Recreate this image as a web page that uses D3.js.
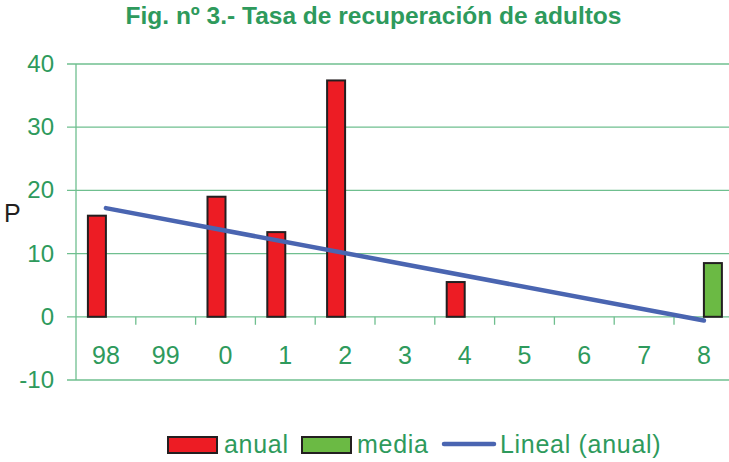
<!DOCTYPE html>
<html>
<head>
<meta charset="utf-8">
<script src="https://cdn.jsdelivr.net/npm/d3@7"></script>
<style>
  body { margin: 0; background: #fff; }
  svg { display: block; font-family: "Liberation Sans", Arial, sans-serif; }
</style>
</head>
<body>
<svg id="chart"></svg>
<script>
var years = ["98", "99", "0", "1", "2", "3", "4", "5", "6", "7", "8"];
var anual = [16, 0, 19, 13.4, 37.4, 0, 5.5, 0, 0, 0, 0];
var media = [0, 0, 0, 0, 0, 0, 0, 0, 0, 0, 8.5];
var yTicks = [-10, 0, 10, 20, 30, 40];

var width = 729, height = 462;
var green = "#2e9a5c";
var gridColor = "#6fbf8f";

var svg = d3.select("#chart").attr("width", width).attr("height", height);

var x0 = 76, bandW = 59.8;
var x = d3.scaleBand().domain(years).range([x0, x0 + bandW * years.length]).paddingInner(0).paddingOuter(0);
var y = d3.scaleLinear().domain([-10, 40]).range([380, 64]);
var barW = 18;

// title
svg.append("text")
  .attr("x", 373.5).attr("y", 23.5)
  .attr("text-anchor", "middle")
  .attr("font-size", 24.5).attr("font-weight", "bold")
  .attr("fill", green)
  .text("Fig. nº 3.- Tasa de recuperación de adultos");

// gridlines
svg.append("g").selectAll("line")
  .data(yTicks)
  .join("line")
  .attr("x1", 67).attr("x2", width)
  .attr("y1", d => y(d)).attr("y2", d => y(d))
  .attr("stroke", gridColor).attr("stroke-width", 1.3);

// y labels
svg.append("g").selectAll("text")
  .data(yTicks)
  .join("text")
  .attr("x", 54).attr("y", d => y(d) + 8)
  .attr("text-anchor", "end")
  .attr("font-size", 24)
  .attr("fill", green)
  .text(d => d);

// vertical axis
svg.append("line")
  .attr("x1", x0).attr("x2", x0)
  .attr("y1", y(40)).attr("y2", y(-10))
  .attr("stroke", gridColor).attr("stroke-width", 1.3);

// category ticks below zero line
svg.append("g").selectAll("line")
  .data(years.slice(1))
  .join("line")
  .attr("x1", d => x(d)).attr("x2", d => x(d))
  .attr("y1", y(0)).attr("y2", y(0) + 8)
  .attr("stroke", gridColor).attr("stroke-width", 1.3);

// category labels
svg.append("g").selectAll("text")
  .data(years)
  .join("text")
  .attr("x", d => x(d) + x.bandwidth() / 2)
  .attr("y", 364)
  .attr("text-anchor", "middle")
  .attr("font-size", 25)
  .attr("fill", green)
  .text(d => d);

// bars
svg.append("g").selectAll("rect")
  .data(years.map((d, i) => ({ k: d, v: anual[i] })).filter(d => d.v > 0))
  .join("rect")
  .attr("x", d => x(d.k) + x.bandwidth() / 2 - barW)
  .attr("y", d => y(d.v))
  .attr("width", barW)
  .attr("height", d => y(0) - y(d.v))
  .attr("fill", "#ed1c24")
  .attr("stroke", "#231f20").attr("stroke-width", 2);

svg.append("g").selectAll("rect")
  .data(years.map((d, i) => ({ k: d, v: media[i] })).filter(d => d.v > 0))
  .join("rect")
  .attr("x", d => x(d.k) + x.bandwidth() / 2)
  .attr("y", d => y(d.v))
  .attr("width", barW)
  .attr("height", d => y(0) - y(d.v))
  .attr("fill", "#6bba44")
  .attr("stroke", "#231f20").attr("stroke-width", 2);

// linear trend of anual
var n = anual.length;
var xs = d3.range(1, n + 1);
var mx = d3.mean(xs), my = d3.mean(anual);
var slope = d3.sum(xs, (v, i) => (v - mx) * (anual[i] - my)) / d3.sum(xs, v => (v - mx) * (v - mx));
var icpt = my - slope * mx;
var trend = [
  { k: years[0], v: icpt + slope * 1 },
  { k: years[n - 1], v: icpt + slope * n }
];
svg.append("path")
  .datum(trend)
  .attr("d", d3.line().x(d => x(d.k) + x.bandwidth() / 2).y(d => y(d.v)))
  .attr("fill", "none")
  .attr("stroke", "#4a65b1").attr("stroke-width", 4.5)
  .attr("stroke-linecap", "round");

// axis title
svg.append("text")
  .attr("x", 4).attr("y", 222)
  .attr("font-size", 25)
  .attr("fill", "#231f20")
  .text("P");

// legend
var lg = svg.append("g").attr("font-size", 25).attr("letter-spacing", 0.7);
lg.append("rect").attr("x", 168).attr("y", 437).attr("width", 49).attr("height", 16)
  .attr("fill", "#ed1c24").attr("stroke", "#231f20").attr("stroke-width", 2);
lg.append("text").attr("x", 224).attr("y", 453).attr("fill", green).text("anual");
lg.append("rect").attr("x", 302).attr("y", 437).attr("width", 49).attr("height", 16)
  .attr("fill", "#6bba44").attr("stroke", "#231f20").attr("stroke-width", 2);
lg.append("text").attr("x", 357).attr("y", 453).attr("fill", green).text("media");
lg.append("line").attr("x1", 444).attr("x2", 494).attr("y1", 444).attr("y2", 444)
  .attr("stroke", "#4a65b1").attr("stroke-width", 4.5).attr("stroke-linecap", "round");
lg.append("text").attr("x", 500).attr("y", 453).attr("fill", green).text("Lineal (anual)");
</script>
</body>
</html>
